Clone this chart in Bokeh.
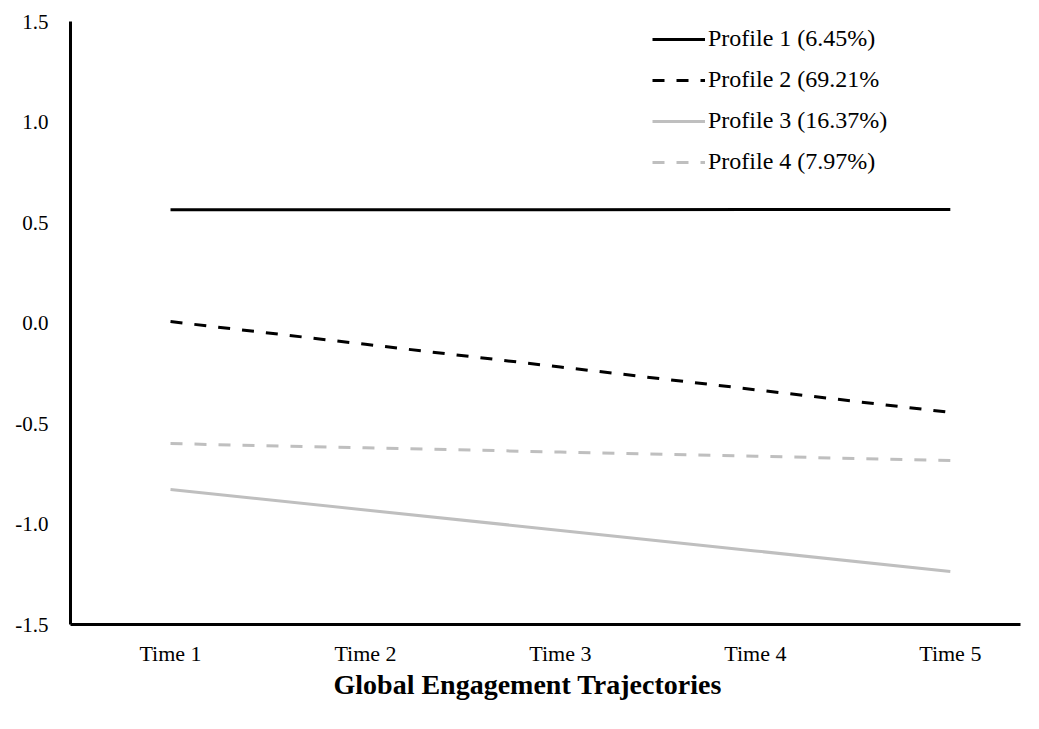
from bokeh.plotting import figure
from bokeh.models import Range1d, FixedTicker, Legend, LegendItem, Title
from bokeh.embed import file_html
from bokeh.resources import INLINE

times = ["Time 1", "Time 2", "Time 3", "Time 4", "Time 5"]
x_pos = [1, 2, 3, 4, 5]
profile1 = [0.563, 0.564, 0.564, 0.565, 0.565]
profile2 = [0.007, -0.106, -0.219, -0.332, -0.445]
profile3 = [-0.828, -0.930, -1.032, -1.134, -1.236]
profile4 = [-0.600, -0.621, -0.642, -0.663, -0.684]
labels = ["Profile 1 (6.45%)", "Profile 2 (69.21%", "Profile 3 (16.37%)", "Profile 4 (7.97%)"]
y_ticks = [-1.5, -1.0, -0.5, 0.0, 0.5, 1.0, 1.5]

FONT = "Liberation Serif"
BLACK = "#000000"
GRAY = "#BFBFBF"

p = figure(width=1031, height=713, output_backend="svg", toolbar_location=None,
           x_range=Range1d(0.487, 5.36), y_range=Range1d(-1.5, 1.5),
           min_border_left=70, min_border_right=11, min_border_top=21, min_border_bottom=89)
p.outline_line_color = None
p.xgrid.grid_line_color = None
p.ygrid.grid_line_color = None

r1 = p.line(x_pos, profile1, line_color=BLACK, line_width=3)
r2 = p.line(x_pos, profile2, line_color=BLACK, line_width=3, line_dash="12 12")
r3 = p.line(x_pos, profile3, line_color=GRAY, line_width=3)
r4 = p.line(x_pos, profile4, line_color=GRAY, line_width=3, line_dash="12 12")

p.xaxis.ticker = FixedTicker(ticks=x_pos)
p.xaxis.major_label_overrides = {x: t for x, t in zip(x_pos, times)}
p.yaxis.ticker = FixedTicker(ticks=y_ticks)
p.yaxis.major_label_overrides = {v: f"{v:.1f}" for v in y_ticks}

for ax in (p.xaxis[0], p.yaxis[0]):
    ax.axis_line_width = 3
    ax.axis_line_color = BLACK
    ax.major_tick_out = 0
    ax.major_tick_in = 0
    ax.minor_tick_out = 0
    ax.minor_tick_in = 0
    ax.major_label_text_font = FONT
    ax.major_label_text_color = BLACK

p.yaxis.major_label_text_font_size = "21px"
p.xaxis.major_label_text_font_size = "22px"
p.yaxis.major_label_standoff = 22
p.xaxis.major_label_standoff = 16

title = Title(text="Global Engagement  Trajectories", align="left", offset=263,
              text_font=FONT, text_font_size="28px", text_font_style="bold",
              text_color=BLACK, standoff=-4)
p.add_layout(title, "below")

legend = Legend(items=[LegendItem(label=labels[0], renderers=[r1]),
                       LegendItem(label=labels[1], renderers=[r2]),
                       LegendItem(label=labels[2], renderers=[r3]),
                       LegendItem(label=labels[3], renderers=[r4])],
                location=(582, 449))
legend.background_fill_alpha = 0
legend.border_line_color = None
legend.padding = 0
legend.margin = 0
legend.spacing = 14
legend.glyph_width = 53
legend.glyph_height = 20
legend.label_height = 20
legend.label_standoff = 3
legend.label_text_font = FONT
legend.label_text_font_size = "24px"
legend.label_text_color = BLACK
p.add_layout(legend)

open("out.html", "w").write(file_html(p, INLINE))
